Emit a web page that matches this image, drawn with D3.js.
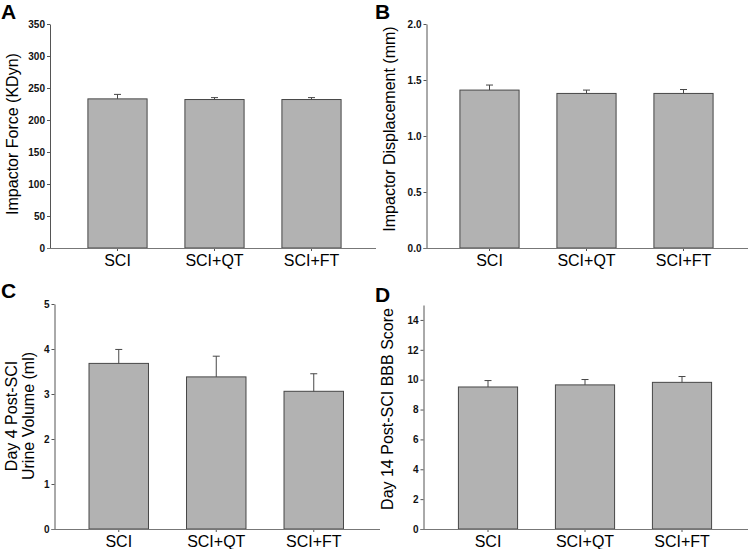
<!DOCTYPE html>
<html>
<head>
<meta charset="utf-8">
<script src="https://d3js.org/d3.v7.min.js"></script>
<style>
  body { margin: 0; background: #fff; }
  text { font-family: "Liberation Sans", Arial, sans-serif; }
</style>
</head>
<body>
<script>
//chart data
var groups = ["SCI", "SCI+QT", "SCI+FT"];

var forceMean = [233, 232, 232];
var forceErr = [7, 3, 3];
var forceTicks = [0, 50, 100, 150, 200, 250, 300, 350];

var dispMean = [1.41, 1.38, 1.38];
var dispErr = [0.045, 0.03, 0.035];
var dispTicks = [0, 0.5, 1.0, 1.5, 2.0];

var urineMean = [3.68, 3.38, 3.06];
var urineErr = [0.31, 0.46, 0.39];
var urineTicks = [0, 1, 2, 3, 4, 5];

var bbbMean = [9.51, 9.65, 9.82];
var bbbErr = [0.43, 0.36, 0.39];
var bbbTicks = [0, 2, 4, 6, 8, 10, 12, 14];

var w = 748, h = 549;

window.onload = function(){

    var svg = d3.select("body")
        .append("svg")
        .attr("width", w)
        .attr("height", h)
        .attr("class", "container");

    //one panel per call
    function panel(p){
        var g = svg.append("g").attr("class", "panel");

        var y = d3.scaleLinear()
            .domain([0, p.max])
            .range([p.bottom, p.top]);

        var x = d3.scaleBand()
            .domain(groups)
            .range(p.band)
            .paddingInner(0.39)
            .paddingOuter(0.195);

        var rows = groups.map(function(d, i){
            return { name: d, mean: p.mean[i], err: p.err[i] };
        });

        //bars
        g.selectAll(".bar")
            .data(rows)
            .enter()
            .append("rect")
            .attr("class", "bar")
            .attr("x", function(d){ return x(d.name); })
            .attr("y", function(d){ return y(d.mean); })
            .attr("width", x.bandwidth())
            .attr("height", function(d){ return y(0) - y(d.mean); })
            .style("fill", "#b2b2b2")
            .style("stroke", "#474747")
            .style("stroke-width", 1);

        //error bars (upper half only)
        var eb = g.selectAll(".err")
            .data(rows)
            .enter()
            .append("g")
            .attr("class", "err")
            .style("stroke", "#474747")
            .style("stroke-width", 1);

        eb.append("line")
            .attr("x1", function(d){ return x(d.name) + x.bandwidth() / 2; })
            .attr("x2", function(d){ return x(d.name) + x.bandwidth() / 2; })
            .attr("y1", function(d){ return y(d.mean); })
            .attr("y2", function(d){ return y(d.mean + d.err); });

        eb.append("line")
            .attr("x1", function(d){ return x(d.name) + x.bandwidth() / 2 - 3.5; })
            .attr("x2", function(d){ return x(d.name) + x.bandwidth() / 2 + 3.5; })
            .attr("y1", function(d){ return y(d.mean + d.err); })
            .attr("y2", function(d){ return y(d.mean + d.err); });

        //y axis
        var yAxis = d3.axisLeft(y)
            .tickValues(p.ticks)
            .tickSize(3)
            .tickSizeOuter(0)
            .tickPadding(2)
            .tickFormat(p.fmt);

        var ya = g.append("g")
            .attr("class", "axis")
            .attr("transform", "translate(" + p.axisX + ",0)")
            .call(yAxis);
        ya.select(".domain").style("stroke", "#555");
        ya.selectAll(".tick line").style("stroke", "#555");
        ya.selectAll("text")
            .style("font-size", "10px")
            .style("font-weight", "bold")
            .style("fill", "#111");

        //x axis
        var xAxis = d3.axisBottom(x)
            .tickSize(3)
            .tickPadding(4);

        var xa = g.append("g")
            .attr("class", "axis")
            .attr("transform", "translate(0," + p.bottom + ")")
            .call(xAxis);
        xa.select(".domain").remove();
        xa.selectAll(".tick line").style("stroke", "#555");
        xa.selectAll("text")
            .style("font-size", "16px")
            .style("fill", "#000");

        g.append("line")
            .attr("x1", p.axisX - 3)
            .attr("x2", p.axisEnd)
            .attr("y1", p.bottom + 0.5)
            .attr("y2", p.bottom + 0.5)
            .style("stroke", "#777")
            .style("stroke-width", 1);

        //y label, one or two lines
        var lab = g.append("text")
            .attr("transform", "translate(" + p.labX + "," + p.labY + ") rotate(-90)")
            .attr("text-anchor", "middle")
            .style("font-size", "16px")
            .style("fill", "#000");
        p.label.forEach(function(s, i){
            lab.append("tspan")
                .attr("x", 0)
                .attr("y", i * 17)
                .attr("dy", "0.35em")
                .text(s);
        });

        //panel letter
        g.append("text")
            .attr("x", p.letterX)
            .attr("y", p.letterY)
            .text(p.letter)
            .style("font-size", "21px")
            .style("font-weight", "bold")
            .style("fill", "#000");
    }

    var int = d3.format("d");

    panel({
        letter: "A", letterX: 1, letterY: 19,
        mean: forceMean, err: forceErr, ticks: forceTicks, max: 350, fmt: int,
        top: 24, bottom: 248, axisX: 50, axisEnd: 376, band: [69, 360],
        label: ["Impactor Force (KDyn)"], labX: 12, labY: 134
    });

    panel({
        letter: "B", letterX: 375, letterY: 19,
        mean: dispMean, err: dispErr, ticks: dispTicks, max: 2, fmt: d3.format(".1f"),
        top: 24, bottom: 248, axisX: 426.5, axisEnd: 748, band: [441, 732],
        label: ["Impactor Displacement (mm)"], labX: 389, labY: 129
    });

    panel({
        letter: "C", letterX: 1, letterY: 298,
        mean: urineMean, err: urineErr, ticks: urineTicks, max: 5, fmt: int,
        top: 304, bottom: 529, axisX: 54.5, axisEnd: 380, band: [70, 362.5],
        label: ["Day 4 Post-SCI", "Urine Volume (ml)"], labX: 11, labY: 416
    });

    panel({
        letter: "D", letterX: 375, letterY: 302,
        mean: bbbMean, err: bbbErr, ticks: bbbTicks, max: 15, fmt: int,
        top: 305, bottom: 529, axisX: 423.5, axisEnd: 748, band: [439.5, 730.5],
        label: ["Day 14 Post-SCI BBB Score"], labX: 387, labY: 409
    });
};
</script>
</body>
</html>
